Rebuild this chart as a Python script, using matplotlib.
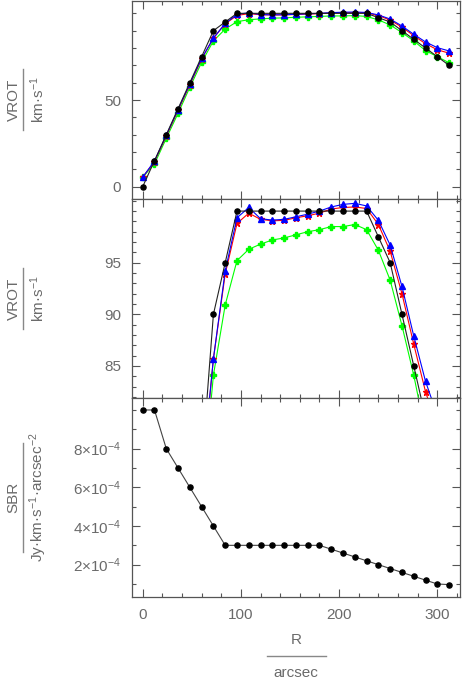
import matplotlib
matplotlib.use("Agg")
import matplotlib.pyplot as plt
from matplotlib.lines import Line2D
from matplotlib.ticker import FixedLocator, MultipleLocator

plt.rcParams['font.family'] = ['Liberation Sans', 'DejaVu Sans']
plt.rcParams['mathtext.fontset'] = 'custom'
plt.rcParams['mathtext.rm'] = 'Liberation Sans'
plt.rcParams['mathtext.default'] = 'regular'

# --- data ---
radius = [0, 12, 24, 36, 48, 60, 72, 84, 96, 108, 120, 132, 144, 156, 168,
          180, 192, 204, 216, 228, 240, 252, 264, 276, 288, 300, 312]

vrot_black = [0, 15, 30, 45, 60, 75, 90, 95, 100, 100, 100, 100, 100, 100, 100,
              100, 100, 100, 100, 100, 97.5, 95, 90, 85, 80, 75, 70]
vrot_blue = [5.5, 14.8, 29.6, 44.5, 59.3, 74.0, 85.7, 94.2, 99.35, 100.35, 99.26,
             99.13, 99.2, 99.45, 99.7, 100.0, 100.4, 100.65, 100.75, 100.5, 99.1,
             96.7, 92.7, 87.9, 83.5, 80.2, 78.3]
vrot_red = [5.5, 14.5, 29.2, 44.0, 58.8, 73.6, 85.7, 93.9, 98.8, 99.8, 99.2,
            99.06, 99.1, 99.35, 99.55, 99.8, 100.2, 100.35, 100.4, 100.25, 98.7,
            96.1, 92.0, 87.1, 82.5, 79.0, 77.0]
vrot_green = [5.5, 13.1, 27.9, 42.3, 57.3, 71.7, 84.1, 90.9, 95.2, 96.3, 96.8,
              97.2, 97.4, 97.7, 98.0, 98.2, 98.5, 98.5, 98.7, 98.2, 96.2, 93.3,
              88.9, 84.1, 78.5, 75.0, 71.5]

sbr = [10e-4, 10e-4, 8e-4, 7e-4, 6e-4, 5e-4, 4e-4, 3e-4, 3e-4, 3e-4, 3e-4, 3e-4,
       3e-4, 3e-4, 3e-4, 3e-4, 2.8e-4, 2.6e-4, 2.4e-4, 2.2e-4, 2.0e-4, 1.8e-4,
       1.6e-4, 1.4e-4, 1.2e-4, 1.0e-4, 0.97e-4]

sbr_ticks = [2e-4, 4e-4, 6e-4, 8e-4]
sbr_labels = [r'$2{\times}10^{-4}$', r'$4{\times}10^{-4}$',
              r'$6{\times}10^{-4}$', r'$8{\times}10^{-4}$']

TXT = '#6a6a6a'
SPINE = '#555555'
W, H = 463, 680

fig = plt.figure(figsize=(W / 100, H / 100), dpi=100)


def px_box(top, bottom, left=132, right=460):
    return [left / W, 1 - bottom / H, (right - left) / W, (bottom - top) / H]


ax1 = fig.add_axes(px_box(0.5, 198.5))
ax2 = fig.add_axes(px_box(198.5, 398))
ax3 = fig.add_axes(px_box(398, 596.5))


def vrot_curves(ax):
    ax.plot(radius, vrot_green, color='#00ff00', lw=0.8, marker='P', ms=4.0,
            mec='#00ff00')
    ax.plot(radius, vrot_red, color='#ff0000', lw=0.8, marker='*', ms=5.0,
            mec='#ff0000')
    ax.plot(radius, vrot_blue, color='#0000ff', lw=0.8, marker='^', ms=4.0,
            mec='#0000ff')
    ax.plot(radius, vrot_black, color='#222222', lw=0.8, marker='o', ms=3.7,
            mfc='black', mec='black')


vrot_curves(ax1)
vrot_curves(ax2)
ax3.plot(radius, sbr, color='#444444', lw=0.8, marker='o', ms=3.7,
         mfc='black', mec='black')

for ax in (ax1, ax2, ax3):
    ax.set_xlim(-10.9, 323.1)
    ax.xaxis.set_major_locator(MultipleLocator(100))
    ax.xaxis.set_minor_locator(MultipleLocator(20))
    ax.tick_params(which='both', direction='in', top=True, right=True,
                   colors=SPINE, labelcolor=TXT, labelsize=11, width=0.8)
    ax.tick_params(which='major', length=6, pad=8)
    ax.tick_params(which='minor', length=3)
    for s in ax.spines.values():
        s.set_color(SPINE)
        s.set_linewidth(0.9)

ax1.set_ylim(-6.8, 107.4)
ax1.yaxis.set_major_locator(FixedLocator([0, 50]))
ax1.yaxis.set_minor_locator(MultipleLocator(10))
ax1.tick_params(labelbottom=False)

ax2.set_ylim(81.89, 101.22)
ax2.yaxis.set_major_locator(FixedLocator([85, 90, 95]))
ax2.yaxis.set_minor_locator(MultipleLocator(1))
ax2.tick_params(labelbottom=False)

ax3.set_ylim(0.354e-4, 10.62e-4)
ax3.set_yticks(sbr_ticks)
ax3.set_yticklabels(sbr_labels)
ax3.yaxis.set_minor_locator(MultipleLocator(1e-4))


def frac_ylabel(num, den, y0, y1, fs=11):
    yc = 1 - (y0 + y1) / 2 / H
    fig.text(13.5 / W, yc, num, rotation=90, ha='center', va='center',
             color=TXT, fontsize=fs)
    fig.add_artist(Line2D([23 / W, 23 / W], [1 - y0 / H, 1 - y1 / H],
                          color='#888888', lw=1.0))
    fig.text(38 / W, yc, den, rotation=90, ha='center', va='center',
             color=TXT, fontsize=fs)


frac_ylabel('VROT', r'km·s$^{-1}$', 69, 130)
frac_ylabel('VROT', r'km·s$^{-1}$', 268, 329)
frac_ylabel('SBR', r'Jy·km·s$^{-1}$·arcsec$^{-2}$', 443, 552)

# x label: R over arcsec
fig.text(296 / W, 1 - 640 / H, 'R', ha='center', va='center', color=TXT,
         fontsize=11)
fig.add_artist(Line2D([266.7 / W, 325.7 / W], [1 - 656 / H, 1 - 656 / H],
                      color='#888888', lw=1.0))
fig.text(296 / W, 1 - 673 / H, 'arcsec', ha='center', va='center', color=TXT,
         fontsize=11)

fig.savefig('out.png', dpi=100)
